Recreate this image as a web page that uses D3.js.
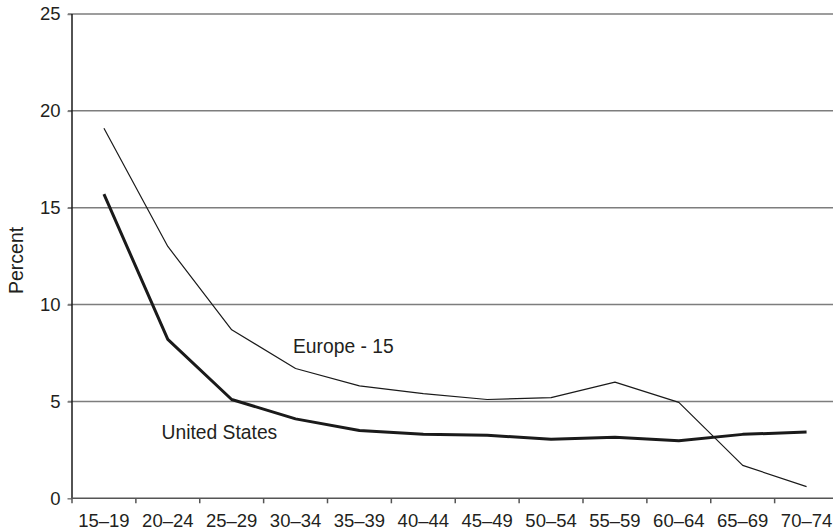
<!DOCTYPE html>
<html>
<head>
<meta charset="utf-8">
<script src="https://cdn.jsdelivr.net/npm/d3@7/dist/d3.min.js"></script>
<style>
  html, body { margin: 0; padding: 0; background: #fff; }
  svg { display: block; }
  text { font-family: "Liberation Sans", Arial, Helvetica, sans-serif; fill: #231f20; }
</style>
</head>
<body>
<svg id="chart" width="833" height="531"></svg>
<script>
const categories = ["15–19","20–24","25–29","30–34","35–39","40–44","45–49","50–54","55–59","60–64","65–69","70–74"];
const europe15 = [19.1, 13.0, 8.7, 6.7, 5.8, 5.4, 5.1, 5.2, 6.0, 4.95, 1.7, 0.6];
const unitedStates = [15.7, 8.2, 5.1, 4.1, 3.5, 3.3, 3.25, 3.05, 3.15, 2.97, 3.3, 3.42];
const yTicks = [0, 5, 10, 15, 20, 25];
const seriesLabels = ["Europe - 15", "United States"];

const svg = d3.select("#chart");
const mLeft = 72, mTop = 14, mBottom = 498.3, mRight = 838.5;

const x = d3.scaleBand().domain(categories).range([mLeft, mRight]).padding(0);
const y = d3.scaleLinear().domain([0, 25]).range([mBottom, mTop]);

// gridlines
svg.append("g").selectAll("line").data(yTicks.filter(d => d > 0)).join("line")
  .attr("x1", mLeft - 4).attr("x2", 833)
  .attr("y1", d => y(d)).attr("y2", d => y(d))
  .attr("stroke", "#7d7d7d").attr("stroke-width", 1.5);

// y axis
const yAxis = svg.append("g").attr("transform", `translate(${mLeft},0)`)
  .call(d3.axisLeft(y).tickValues(yTicks).tickSize(4.5).tickPadding(7).tickFormat(d3.format("d")));
yAxis.select(".domain").remove();
yAxis.selectAll(".tick line").attr("stroke", "#7d7d7d").attr("stroke-width", 1.5);
yAxis.selectAll(".tick text").attr("font-size", 18.5).attr("fill", "#231f20")
  .style("font-family", '"Liberation Sans", Arial, sans-serif');
svg.append("line").attr("x1", mLeft).attr("x2", mLeft).attr("y1", mTop).attr("y2", mBottom)
  .attr("stroke", "#1a1a1a").attr("stroke-width", 1.5);

// x axis
const xAxis = svg.append("g").attr("transform", `translate(0,${mBottom})`)
  .call(d3.axisBottom(x).tickSize(0).tickPadding(0));
xAxis.select(".domain").remove();
xAxis.selectAll(".tick text").attr("font-size", 18.5).attr("dy", null).attr("y", 28.3)
  .attr("fill", "#231f20").style("font-family", '"Liberation Sans", Arial, sans-serif');
svg.append("line").attr("x1", mLeft).attr("x2", 833).attr("y1", mBottom).attr("y2", mBottom)
  .attr("stroke", "#555").attr("stroke-width", 1.5);
// tick marks at band boundaries
svg.append("g").selectAll("line").data(categories).join("line")
  .attr("x1", d => x(d)).attr("x2", d => x(d))
  .attr("y1", mBottom).attr("y2", mBottom + 5)
  .attr("stroke", "#555").attr("stroke-width", 1.5);

const cx = d => x(d) + x.bandwidth() / 2;
const line = d3.line().x(d => cx(d[0])).y(d => y(d[1]));

svg.append("path").datum(categories.map((c, i) => [c, europe15[i]]))
  .attr("d", line).attr("fill", "none").attr("stroke", "#1a1a1a").attr("stroke-width", 1.2)
  .attr("stroke-linejoin", "round");
svg.append("path").datum(categories.map((c, i) => [c, unitedStates[i]]))
  .attr("d", line).attr("fill", "none").attr("stroke", "#1a1a1a").attr("stroke-width", 3)
  .attr("stroke-linejoin", "round");

// annotations
svg.append("text").attr("x", 293).attr("y", 352.5).attr("font-size", 19.3).text(seriesLabels[0]);
svg.append("text").attr("x", 161.5).attr("y", 439.3).attr("font-size", 19.3).text(seriesLabels[1]);

// y label
svg.append("text").attr("transform", "translate(23,294) rotate(-90)")
  .attr("text-anchor", "start").attr("font-size", 19.5).text("Percent");
</script>
</body>
</html>
